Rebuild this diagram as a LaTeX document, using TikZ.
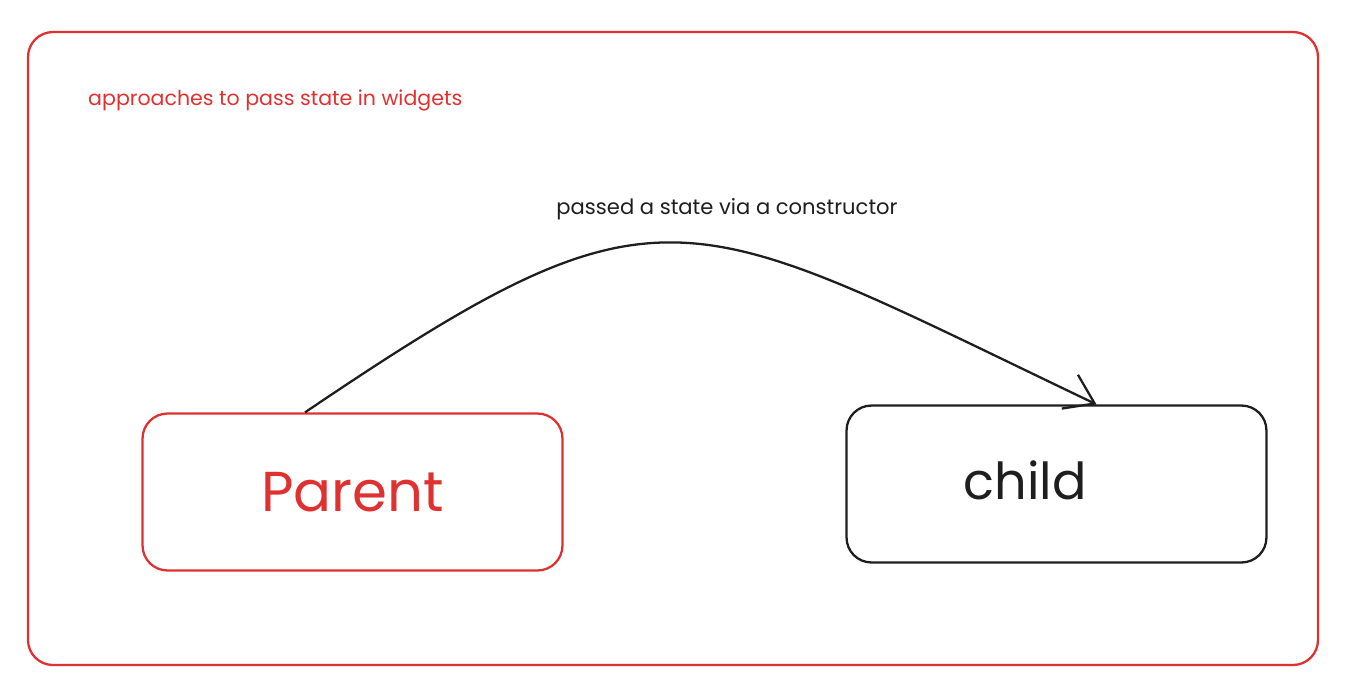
\documentclass[tikz,border=0pt]{standalone}
\usepackage{fontspec}
\setmainfont{Poppins}
\usepackage{xcolor}
\usetikzlibrary{arrows.meta,positioning}
\definecolor{exred}{HTML}{E03131}
\definecolor{exblack}{HTML}{1E1E1E}

\begin{document}
\begin{tikzpicture}[x=0.02cm,y=-0.02cm,
  box/.style={draw, rounded corners=0.5cm, line width=1.3pt, minimum width=8.4cm, minimum height=3.14cm, inner sep=0pt},
  arr/.style={exblack, line width=1.3pt, -{Straight Barb[length=0.55cm,width=0.75cm,line width=1.3pt]}}]
  \useasboundingbox (0,0) rectangle (1357,681);

  % frame
  \draw[exred, line width=1.3pt, rounded corners=0.5cm] (28,32) rectangle (1318,665);
  \node[anchor=west, text=exred, font=\fontsize{11.7}{14}\selectfont] (title) at (82,100) {approaches to pass state in widgets};

  % boxes
  \node[box, exred, font=\fontsize{32}{38}\selectfont] (parent) at (352.5,492) {Parent};
  \node[box, exblack] (child) at (1056.5,484) {};
  \node[exblack, font=\fontsize{29}{35}\selectfont] (childtxt) at (1025,480) {child};

  % arrow
  \draw[arr] ([xshift=-0.95cm]parent.north) .. controls (665,169) and (681,206) .. ([xshift=0.8cm]child.north);
  \node[exblack, font=\fontsize{12}{14}\selectfont] (lbl) at (727,209) {passed a state via a constructor};
\end{tikzpicture}
\end{document}
